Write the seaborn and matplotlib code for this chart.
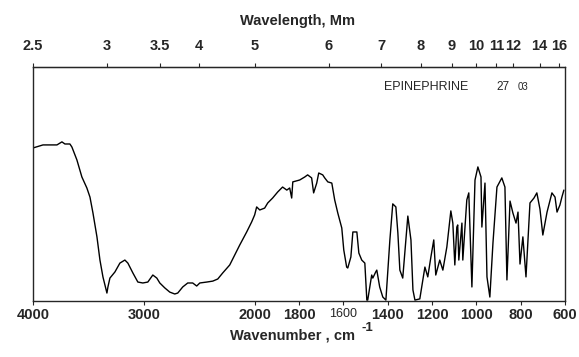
"""
IR spectrum of epinephrine, redrawn with a split wavenumber axis
(4000-2000 cm-1 at half the scale of 2000-600 cm-1) and a wavelength axis on top.
"""
import numpy as np
import pandas as pd
import matplotlib
matplotlib.use('Agg')
import matplotlib.pyplot as plt
import seaborn as sns

sns.set_style('white')
plt.rcParams['font.family'] = ['Liberation Sans', 'DejaVu Sans']

# ── Data ─────────────────────────────────────────────────────────────────────
wavenumber = [
    4000, 3910, 3784, 3739, 3712, 3667, 3649, 3604, 3559, 3514, 3486, 3459,
    3423, 3396, 3369, 3333, 3324, 3306, 3261, 3216, 3171, 3144, 3099, 3054,
    3009, 2964, 2919, 2883, 2856, 2811, 2766, 2721, 2694, 2649, 2604, 2559,
    2523, 2495, 2432, 2378, 2333, 2288, 2225, 2180, 2135, 2072, 2027, 2000,
    1991, 1977, 1955, 1941, 1919, 1896, 1874, 1855, 1842, 1833, 1828, 1797,
    1774, 1761, 1743, 1734, 1720, 1711, 1693, 1684, 1670, 1652, 1639, 1625,
    1607, 1598, 1585, 1580, 1566, 1557, 1539, 1530, 1517, 1503, 1494, 1490,
    1472, 1467, 1454, 1449, 1436, 1422, 1408, 1390, 1377, 1363, 1354, 1345,
    1332, 1318, 1309, 1295, 1286, 1277, 1255, 1232, 1219, 1205, 1192, 1183,
    1165, 1151, 1133, 1115, 1106, 1097, 1088, 1084, 1079, 1065, 1061, 1043,
    1034, 1020, 1006, 993, 979, 975, 961, 952, 939, 925, 907, 885,
    871, 862, 848, 835, 821, 812, 803, 790, 776, 758, 740, 727,
    713, 700, 681, 659, 645, 636, 623, 614, 605,
]
transmittance = [
    65.4, 66.7, 66.7, 68.0, 67.1, 67.1, 65.8, 60.3, 53.0, 48.3, 44.4, 37.6,
    27.4, 17.5, 10.3, 3.4, 6.0, 9.8, 12.4, 16.2, 17.5, 16.2, 12.0, 8.1,
    7.7, 8.1, 11.1, 9.8, 7.7, 5.6, 3.8, 3.0, 3.4, 6.0, 7.7, 7.7,
    6.4, 7.7, 8.1, 8.5, 9.4, 12.0, 15.4, 19.7, 23.9, 29.5, 33.8, 36.8,
    40.2, 38.9, 39.7, 41.9, 44.0, 46.6, 48.7, 47.4, 48.3, 44.0, 50.9, 51.7,
    53.0, 53.9, 52.6, 46.2, 50.4, 54.7, 53.9, 52.6, 50.9, 50.4, 43.2, 37.6,
    31.2, 21.8, 14.5, 14.1, 18.8, 29.5, 29.5, 20.5, 17.5, 16.2, 0.4, 0.4,
    11.1, 9.8, 12.4, 13.2, 6.0, 1.7, 0.4, 26.1, 41.5, 40.2, 29.1, 13.2,
    9.8, 26.1, 36.3, 26.1, 4.7, 0.4, 0.9, 14.5, 10.3, 18.8, 26.1, 11.1,
    17.5, 13.2, 23.1, 38.5, 33.3, 15.4, 31.6, 32.5, 17.5, 33.3, 17.5, 43.2,
    46.2, 6.0, 51.7, 57.3, 53.0, 31.6, 50.4, 10.3, 1.7, 24.8, 48.7, 52.6,
    48.7, 9.0, 42.7, 37.6, 33.3, 38.0, 15.8, 27.4, 10.3, 41.9, 44.0, 46.2,
    39.3, 28.2, 38.0, 46.2, 44.4, 38.0, 41.0, 44.4, 47.4,
]

bottom_ticks = [4000, 3000, 2000, 1800, 1600, 1400, 1200, 1000, 800, 600]
wavelength_um = [2.5, 3, 3.5, 4, 5, 6, 7, 8, 9, 10, 11, 12, 14, 16]
wavelength_labels = ['2.5', '3', '3.5', '4', '5', '6', '7', '8', '9',
                     '10', '11', '12', '14', '16']

df = pd.DataFrame({'wavenumber': wavenumber, 'T': transmittance})


# ── Split scale: above 2000 cm-1 squeezed by a factor of two ─────────────────
def fwd(w):
    w = np.asarray(w, dtype=float)
    return np.where(w > 2000, 2000 + (w - 2000) / 2, w)


def inv(u):
    u = np.asarray(u, dtype=float)
    return np.where(u > 2000, 2000 + 2 * (u - 2000), u)


fig = plt.figure(figsize=(5.79, 3.57), dpi=100)
ax = fig.add_axes([33 / 579, 1 - 301 / 357, 532 / 579, 234 / 357])

sns.lineplot(data=df, x='wavenumber', y='T', color='black', linewidth=1.0,
             estimator=None, sort=False, ax=ax)

ax.set_xscale('function', functions=(fwd, inv))
ax.set_xlim(4000, 600)
ax.set_ylim(0, 100)
ax.set_yticks([])
ax.set_xlabel('')
ax.set_ylabel('')
ax.set_xticks(bottom_ticks)
ax.set_xticklabels([str(t) for t in bottom_ticks], fontsize=10.5,
                   fontweight='bold')
for lbl in ax.get_xticklabels():
    if lbl.get_text() == '1600':
        lbl.set_fontweight('normal')
        lbl.set_fontsize(9)
ax.tick_params(axis='x', direction='out', length=3, width=0.8, pad=2,
               bottom=True)
for s in ax.spines.values():
    s.set_color('black')
    s.set_linewidth(0.9)

# ── Wavelength axis on top ───────────────────────────────────────────────────
ax2 = ax.twiny()
ax2.set_xscale('function', functions=(fwd, inv))
ax2.set_xlim(4000, 600)
ax2.set_xticks([10000 / l for l in wavelength_um])
ax2.set_xticklabels(wavelength_labels, fontsize=10.5, fontweight='bold')
ax2.tick_params(axis='x', direction='out', length=3, width=0.8, pad=7)
ax2.spines['top'].set_linewidth(0.9)

fig.text(298 / 579, 1 - 21 / 357, 'Wavelength, Mm', ha='center', va='center',
         fontsize=10.5, fontweight='bold')
fig.text(293 / 579, 1 - 335 / 357, 'Wavenumber , cm', ha='center',
         va='center', fontsize=10.5, fontweight='bold')
fig.text(362 / 579, 1 - 328 / 357, '-1', ha='left',
         va='center', fontsize=9.5, fontweight='bold')

fig.text(384 / 579, 1 - 87 / 357, 'EPINEPHRINE', ha='left', va='center',
         fontsize=9)
fig.text(496 / 579, 1 - 87 / 357, '27', ha='left', va='center',
         fontsize=8.5)
fig.text(518 / 579, 1 - 87 / 357, '03', ha='left', va='center',
         fontsize=7)

plt.savefig('out.png', dpi=100)
plt.close()
